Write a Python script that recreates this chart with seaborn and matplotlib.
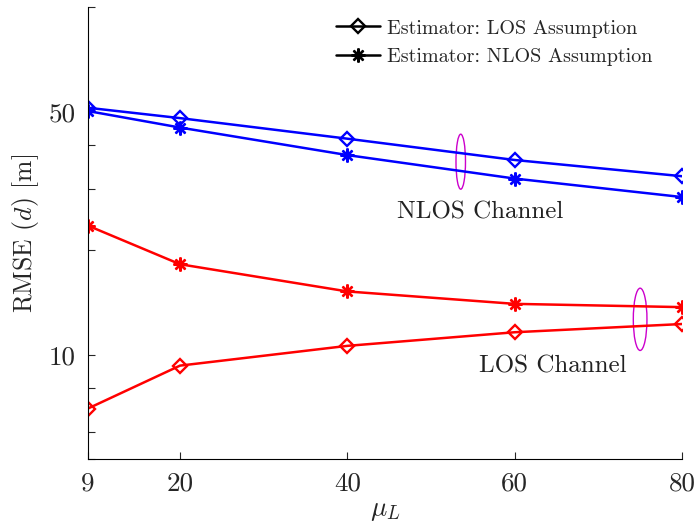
import numpy as np
import pandas as pd
import matplotlib
matplotlib.use("Agg")
import matplotlib.pyplot as plt
from matplotlib.lines import Line2D
from matplotlib.patches import Ellipse
import seaborn as sns

# RMSE of the distance estimate versus mu_L
mu_L = [9, 20, 40, 60, 80]
nlos_ch_los_est = [51.3, 47.9, 41.8, 36.3, 32.6]
nlos_ch_nlos_est = [50.2, 45.0, 37.5, 32.1, 28.4]
los_ch_nlos_est = [23.5, 18.2, 15.2, 14.0, 13.7]
los_ch_los_est = [7.0, 9.3, 10.6, 11.6, 12.25]

y_ticks = [5, 6, 8, 10, 20, 30, 40, 50, 100]
y_tick_labels = ["", "", "", "10", "", "", "", "50", ""]
x_ticks = [9, 20, 40, 60, 80]

sns.set_style("ticks")
plt.rcParams["font.family"] = ["cmr10", "DejaVu Serif"]
plt.rcParams["mathtext.fontset"] = "cm"
plt.rcParams["axes.formatter.use_mathtext"] = True

fig = plt.figure(figsize=(6.96, 5.25), dpi=100)
ax = fig.add_axes([0.1264, 0.1251, 0.8535, 0.8616])

series = [
    (nlos_ch_los_est, "#0000ff", "D"),
    (nlos_ch_nlos_est, "#0000ff", (8, 2, 0)),
    (los_ch_nlos_est, "#ff0000", (8, 2, 0)),
    (los_ch_los_est, "#ff0000", "D"),
]
for vals, color, marker in series:
    df = pd.DataFrame({"mu": mu_L, "rmse": vals})
    is_diamond = marker == "D"
    sns.lineplot(data=df, x="mu", y="rmse", ax=ax, color=color, lw=1.8,
                 marker=marker, markersize=7.5 if is_diamond else 10,
                 markerfacecolor="none" if is_diamond else color,
                 markeredgecolor=color, markeredgewidth=1.7, legend=False)

ax.set_yscale("log")
ax.set_xlim(9, 80)
ax.set_ylim(5, 100)
ax.set_xticks(x_ticks)
ax.set_xticklabels([str(v) for v in x_ticks])
ax.set_yticks(y_ticks)
ax.set_yticklabels(y_tick_labels)
ax.yaxis.set_minor_locator(matplotlib.ticker.NullLocator())
ax.tick_params(direction="in", length=5, width=0.8, labelsize=19.5, pad=9)
ax.set_xlabel(r"$\mu_L$", fontsize=19.5, labelpad=3)
ax.set_ylabel(r"RMSE $(d)$ [m]", fontsize=18.5, labelpad=5)
sns.despine(ax=ax)
for s in ["left", "bottom"]:
    ax.spines[s].set_linewidth(0.8)
    ax.spines[s].set_color("black")

ax.text(55.9, 25.6, "NLOS Channel", fontsize=18, ha="center", va="center", color="#222222")
ax.text(64.6, 9.22, "LOS Channel", fontsize=18, ha="center", va="center", color="#222222")

ax.add_patch(Ellipse((0.6275, 0.658), 0.0160, 0.1216, transform=ax.transAxes,
                     fill=False, edgecolor="#cc00cc", lw=1.0))
ax.add_patch(Ellipse((0.9295, 0.3095), 0.0230, 0.1377, transform=ax.transAxes,
                     fill=False, edgecolor="#cc00cc", lw=1.0))

handles = [
    Line2D([], [], color="black", lw=1.8, marker="D", markersize=7.5,
           markerfacecolor="none", markeredgewidth=1.7),
    Line2D([], [], color="black", lw=1.8, marker=(8, 2, 0), markersize=10,
           markeredgewidth=1.7),
]
ax.legend(handles, ["Estimator: LOS Assumption", "Estimator: NLOS Assumption"],
          loc="upper left", bbox_to_anchor=(0.483, 0.963), bbox_transform=fig.transFigure,
          frameon=False, fontsize=14.5, handlelength=2.2, handletextpad=0.3,
          labelspacing=0.5, borderaxespad=0, borderpad=0)

fig.savefig("out.png", dpi=100)
